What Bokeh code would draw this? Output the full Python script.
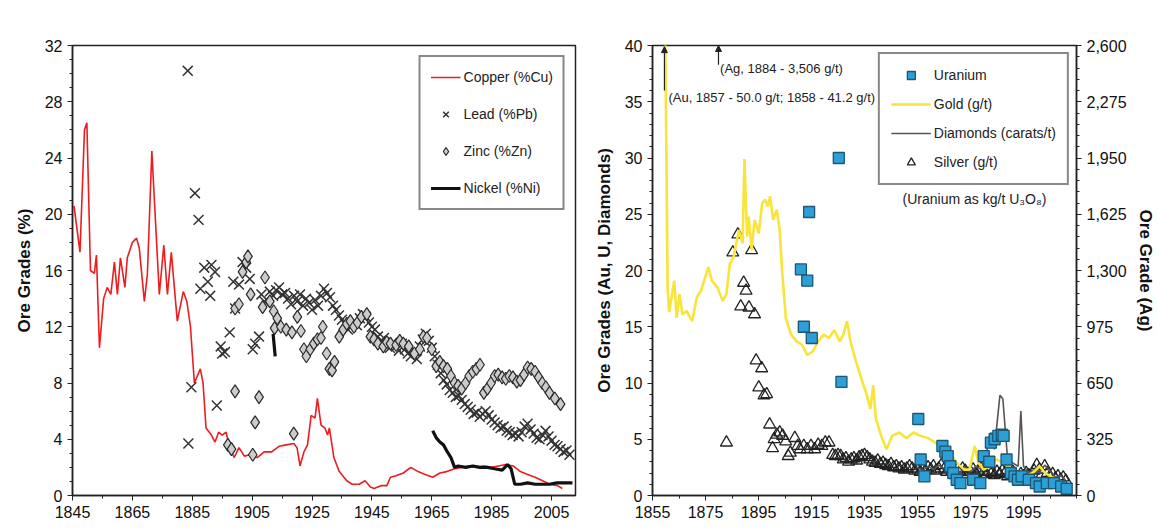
import math
from bokeh.plotting import figure
from bokeh.layouts import row
from bokeh.models import (Range1d, LinearAxis, FixedTicker, NumeralTickFormatter, Arrow,
                          NormalHead, Label, Legend, LegendItem, ColumnDataSource)
from bokeh.embed import file_html
from bokeh.resources import INLINE

nan = float("nan")
FONT = "Liberation Sans"

# ---------------- left panel data (% grades) ----------------
cu_year = [1845.5, 1847.5, 1849, 1849.8, 1851, 1852.3, 1853, 1854, 1855.4, 1856.6, 1857.8, 1859, 1860, 1861,
           1862.5, 1863.3, 1865, 1866.4, 1867.3, 1869, 1870, 1871.5, 1872.5, 1874, 1875.5, 1876.7, 1878, 1880,
           1882, 1883.2, 1884.4, 1885.7, 1887.7, 1888.6, 1889.6, 1891.4, 1892.6, 1893.8, 1895, 1896.3, 1897.5,
           1899, 1900.6, 1902.4, 1904.2, 1906.7, 1909, 1911.5, 1914, 1916.4, 1918.9, 1920, 1921, 1922.3, 1923.5,
           1924.7, 1926, 1926.8, 1928, 1929.3, 1930.2, 1930.8, 1932.3, 1934.1, 1936.6, 1938.4, 1940.8, 1942.7,
           1944.5, 1945.7, 1948, 1950, 1951.2, 1953, 1955.5, 1958, 1960.4, 1962.8, 1965.3, 1967.7, 1970, 1972.6,
           1975, 1977.5, 1980, 1982.4, 1984.9, 1987.3, 1989.7, 1992.2, 1994.6, 1997, 1999.5, 2002, 2004.4, 2007,
           2008.6]
cu_val = [20.6, 17.3, 26.0, 26.5, 16.0, 15.8, 17.1, 10.5, 14.0, 14.8, 14.3, 16.6, 14.3, 16.9,
          14.8, 16.9, 18.0, 18.3, 17.6, 13.8, 15.7, 24.5, 20.4, 14.3, 17.8, 14.3, 17.3, 12.4,
          14.5, 13.8, 12.0, 8.0, 9.0, 8.0, 4.8, 4.3, 3.8, 4.5, 4.3, 4.5, 3.4,
          2.7, 3.4, 2.8, 2.9, 2.7, 3.1, 3.1, 3.5, 3.6, 3.7, 3.4, 2.1, 3.1, 3.6,
          5.7, 5.5, 6.9, 5.0, 4.8, 4.3, 4.8, 2.7, 1.7, 1.05, 0.8, 0.8, 1.05,
          0.6, 0.5, 0.7, 0.7, 1.3, 1.4, 1.6, 2.0, 1.7, 1.5, 1.3, 1.6, 1.7, 1.9,
          2.0, 2.1, 2.0, 2.1, 2.0, 2.1, 2.2, 2.1, 1.7, 1.5, 1.3, 1.05, 0.8, 0.7,
          0.5]

pb_year = [1883.5, 1883.7, 1884.7, 1885.9, 1887.1, 1887.7, 1889, 1890.2, 1891, 1891.4, 1892.6, 1893.2, 1894.5,
           1895, 1895.9, 1897.5, 1898.7, 1899.3, 1900.6, 1901.8, 1903, 1904.2, 1905.2, 1906, 1907.3, 1908.1,
           1909.1, 1910.9, 1912, 1913, 1914, 1915, 1916, 1917, 1918, 1919, 1920, 1921, 1922, 1923, 1924, 1925,
           1926, 1927, 1928, 1929, 1930, 1931, 1932, 1933, 1934, 1935, 1936, 1937, 1938, 1939, 1940, 1941, 1942,
           1943, 1944, 1945, 1946, 1947, 1948, 1949, 1950, 1951, 1952, 1953, 1954, 1955, 1956, 1957, 1958, 1959,
           1960, 1961, 1962, 1963, 1964, 1965, 1966, 1967, 1968, 1969, 1970, 1971, 1972, 1973, 1974, 1975, 1976,
           1977, 1978, 1979, 1980, 1981, 1982, 1983, 1984, 1985, 1986, 1987, 1988, 1989, 1990, 1991, 1992, 1993,
           1994, 1995, 1996, 1997, 1998, 1999, 2000, 2001, 2002, 2003, 2004, 2005, 2006, 2007, 2008, 2009, 2010,
           2011]
pb_val = [30.2, 3.7, 7.7, 21.5, 19.6, 14.7, 16.2, 15.2, 14.2, 16.4, 15.9, 6.4, 10.6,
          10.1, 10.2, 11.6, 15.2, 13.3, 15.0, 16.6, 16.2, 15.4, 10.4, 10.8, 11.3, 14.3,
          13.8, 14.5, 14.2, 14.6, 14.8, 14.3, 14.4, 14.0, 13.6, 14.2, 13.8, 14.3, 13.5, 14.0, 13.7, 13.2,
          13.9, 13.5, 14.2, 14.7, 14.4, 14.1, 13.5, 13.2, 12.8, 12.5, 12.2, 11.8, 12.0, 12.4, 12.1, 12.6, 12.9,
          12.7, 12.3, 12.0, 11.8, 11.3, 11.0, 11.2, 10.7, 10.5, 10.9, 10.6, 10.3, 10.8, 10.4, 10.1, 9.9, 10.3,
          9.7, 10.6, 11.1, 11.5, 11.0, 10.5, 9.9, 9.3, 8.7, 8.2, 7.9, 7.5, 7.3, 7.0, 7.1, 6.8, 6.5,
          6.3, 6.1, 5.8, 5.9, 5.6, 5.8, 6.0, 5.7, 5.4, 5.2, 5.0, 4.8, 4.9, 4.6, 4.5, 4.3, 4.4,
          4.2, 4.5, 4.9, 5.1, 4.7, 4.4, 4.1, 4.0, 4.3, 4.6, 4.2, 3.9, 3.6, 3.5, 3.3, 3.1, 3.2,
          2.9, 2.8]

zn_year = [1896.9, 1898.1, 1899.3, 1899.3, 1900.6, 1901.8, 1903, 1903.6, 1904.5, 1905.2, 1906, 1907.3, 1908.5,
           1909.3, 1910.9, 1912.2, 1912.5, 1913.4, 1914.6, 1916.4, 1918.3, 1918.9, 1920.1, 1921.3, 1922.3,
           1923.1, 1924.4, 1925.6, 1926.8, 1928, 1928.6, 1929.9, 1930.8, 1931.7, 1932.5, 1934.1, 1935.4, 1936.6,
           1937.8, 1939, 1940.2, 1941.5, 1943.3, 1944.5, 1945.7, 1947, 1948.8, 1950, 1951.2, 1953.1, 1954.3,
           1955.5, 1957.3, 1959.2, 1961, 1962.2, 1963.4, 1965, 1966.5, 1967.7, 1968.9, 1970.2, 1971.4, 1972.6,
           1973.8, 1975, 1976.3, 1977.5, 1978.7, 1979.9, 1981.1, 1982.4, 1983.6, 1984.8, 1986, 1987.2, 1988.5,
           1989.7, 1990.9, 1992.1, 1993.4, 1994.6, 1995.8, 1997, 1998.2, 1999.5, 2000.7, 2001.9, 2003.1, 2004.3,
           2006.1, 2008]
zn_val = [3.6, 3.3, 7.4, 13.3, 13.6, 15.9, 16.6, 17.0, 14.3, 2.9, 5.2, 7.0, 13.4,
          15.5, 13.8, 13.1, 11.9, 12.6, 12.0, 11.8, 11.6, 4.4, 12.7, 11.7, 10.4,
          9.9, 10.4, 10.8, 11.1, 11.2, 12.0, 10.1, 9.0, 8.9, 9.5, 11.3, 11.8, 12.2,
          12.4, 12.0, 12.3, 12.7, 12.9, 11.3, 11.1, 10.8, 10.6, 10.9, 10.8, 10.7, 11.0,
          10.8, 10.6, 10.1, 10.4, 11.3, 11.2, 10.4, 9.2, 9.5, 9.2, 9.0, 8.5, 8.0,
          7.8, 7.6, 8.0, 8.5, 8.8, 9.0, 9.3, 7.3, 7.6, 8.0, 8.5, 8.6, 8.4,
          8.3, 8.5, 8.4, 8.1, 8.2, 8.6, 9.1, 9.0, 8.8, 8.4, 8.0, 7.7, 7.3,
          6.9, 6.5]

ni_year = [1912.0, 1912.7, nan, 1965.3, 1966.5, 1967.7, 1968.9, 1970.2, 1971.4, 1972.6, 1973.8, 1976.3, 1978.7,
           1981.1, 1983.6, 1986, 1988.5, 1990.3, 1991.5, 1992.7, 1994.6, 1997, 1999.5, 2001.9, 2004.3, 2006.8,
           2009.2, 2012]
ni_val = [11.5, 9.9, nan, 4.6, 4.1, 3.8, 3.6, 3.1, 2.7, 2.0, 2.1, 2.0, 2.1,
          2.0, 2.0, 1.9, 1.8, 2.2, 1.9, 0.8, 0.8, 0.9, 0.8, 0.8, 0.8, 0.9,
          0.9, 0.9]

left_xticks = [1845, 1865, 1885, 1905, 1925, 1945, 1965, 1985, 2005]
left_yticks = [0, 4, 8, 12, 16, 20, 24, 28, 32]

# ---------------- right panel data ----------------
au_year = [1859.0, 1859.8, 1860.3, 1860.7, 1861.3, 1863.2, 1864.1, 1865.2, 1866.3, 1867.9, 1870, 1871.7, 1873.3,
           1876.1, 1877.4, 1879.5, 1881.5, 1882.9, 1884.2, 1885.6, 1887.6, 1889, 1889.7, 1890.7, 1891.3, 1892.4,
           1893.5, 1895.1, 1896.4, 1897.5, 1898.5, 1899.4, 1900.5, 1901.9, 1903, 1903.9, 1905.3, 1907.3, 1909.4,
           1911.4, 1913.4, 1915.5, 1917.5, 1919.6, 1921.6, 1923.6, 1925.7, 1927, 1928.4, 1929.7, 1931.8, 1933.8,
           1935.9, 1937.2, 1938.3, 1939.3, 1941.3, 1943.3, 1945.4, 1948.1, 1950.8, 1953.5, 1956.2, 1959, 1961.7,
           1964.4, 1967.1, 1969.8, 1972.6, 1974.6, 1976.6, 1978, 1980, 1982.1, 1984.8, 1987.5, 1990.2, 1992.9,
           1995.7, 1998.4, 2001.1, 2003.1, 2005.2, 2007.9, 2010.6]
au_val = [50.0, 41.2, 29.0, 18.5, 16.3, 19.1, 15.8, 17.9, 16.1, 16.4, 15.5, 17.6, 18.2,
          20.3, 19.1, 18.5, 17.3, 17.9, 20.6, 21.2, 23.6, 22.4, 29.9, 23.0, 24.8, 21.8,
          24.5, 23.3, 26.0, 26.3, 25.7, 26.6, 24.5, 25.4, 23.6, 20.0, 15.8, 14.3, 13.7,
          13.4, 12.5, 12.8, 13.7, 14.3, 14.0, 14.7, 13.7, 14.3, 15.5, 13.7, 11.9, 10.4,
          8.9, 7.7, 9.8, 6.8, 5.3, 4.1, 5.3, 5.6, 5.1, 5.6, 5.3, 5.1, 4.7,
          4.1, 3.8, 2.9, 2.3, 2.3, 4.4, 2.9, 2.3, 2.6, 3.2, 2.9, 2.3, 2.0,
          1.7, 2.0, 2.6, 2.0, 1.7, 1.4, 1.1]

u_year = [1925.3, 1914.1, 1911, 1913.4, 1912.1, 1915.1, 1926.3, 1955.3, 1956.2, 1957.6, 1964.4, 1965.5, 1966.4,
          1967.4, 1968.5, 1969.8, 1971.2, 1976, 1978.7, 1980, 1982.1, 1982.7, 1984.1, 1985.5, 1986.8, 1987.5,
          1988.6, 1990.2, 1991.6, 1992.9, 1994.3, 1997, 1999.7, 2001.1, 2003.8, 2006.5, 2009.2, 2011.3]
u_val = [30.0, 25.2, 20.1, 19.1, 15.0, 14.0, 10.1, 6.8, 3.2, 1.7, 4.4, 3.9, 3.5,
         2.6, 2.0, 1.4, 1.1, 1.4, 1.1, 3.5, 3.0, 4.7, 5.0, 5.3, 5.4, 5.3,
         3.2, 2.0, 1.7, 1.4, 1.7, 1.4, 1.1, 0.8, 1.1, 1.1, 0.8, 0.6]

dia_year = [1955, 1957, 1959, 1961, 1963, 1965, 1967, 1969, 1971, 1973, 1975, 1977, 1979, 1980.7, 1982.7, 1984,
            1986.1, 1987.2, 1988.9, 1990.9, 1993, 1994, 1995, 1997, 1999, 2001, 2003, 2005, 2007, 2009, 2011]
dia_val = [2.5, 2.2, 2.6, 2.3, 2.7, 2.4, 2.9, 2.2, 2.0, 2.5, 2.1, 2.6, 2.3, 3.5, 5.6, 4.1,
           8.9, 8.6, 3.5, 2.9, 2.6, 7.5, 2.6, 2.0, 2.3, 2.0, 2.7, 2.2, 1.6, 1.8, 1.3]

ag_year = [1886.5, 1882.9, 1885.3, 1887.2, 1888.3, 1889.4, 1890.3, 1891.4, 1892.4, 1893.5, 1894.1, 1895.1, 1896.2,
           1897.1, 1898.1, 1899.2, 1900.3, 1900.9, 1901.9, 1903, 1904.1, 1905.3, 1906.2, 1907, 1908.7, 1909.8,
           1910.7, 1912.1, 1913.4, 1914.8, 1916.2, 1917.5, 1918.9, 1920.2, 1921.6,
           1923, 1924, 1925, 1926, 1927, 1928, 1929, 1930, 1931, 1932, 1933, 1934, 1935, 1936, 1937, 1938, 1939,
           1940, 1941, 1942, 1943, 1944, 1945, 1946, 1947, 1948, 1949, 1950, 1951, 1952, 1953, 1954, 1955, 1956,
           1957, 1958, 1959, 1960, 1961, 1962, 1963, 1964, 1965, 1966, 1967, 1968, 1969, 1970, 1971, 1972, 1973,
           1974, 1975, 1976, 1977, 1978, 1979, 1980, 1981, 1982, 1983, 1984, 1985, 1986, 1987, 1988, 1989, 1990,
           1991, 1992, 1993, 1994, 1995, 1996, 1997, 1998, 1999, 2000, 2001, 2002, 2003, 2004, 2005, 2006, 2007,
           2008, 2009, 2010, 2011]
ag_val = [3506, 306, 1404, 1508, 1092, 1229, 1183, 1086, 1417, 1047, 780, 624, 735,
          579, 585, 410, 273, 325, 351, 364, 345, 312, 228, 247, 332, 286,
          267, 286, 267, 286, 267, 293, 286, 306, 306,
          234, 228, 234, 228, 208, 215, 195, 208, 215, 202, 221, 228, 234, 221, 208, 195, 189,
          202, 182, 189, 176, 169, 182, 163, 169, 156, 163, 150, 156, 169, 156, 143, 150, 137,
          156, 143, 163, 150, 169, 143, 156, 176, 150, 137, 156, 143, 130, 150, 137, 156, 143,
          124, 137, 150, 130, 143, 156, 137, 124, 143, 130, 117, 137, 124, 143, 130, 111, 124,
          137, 117, 104, 124, 111, 130, 117, 104, 143, 176, 150, 124, 169, 130, 111, 124, 98,
          111, 91, 104, 85]

right_xticks = [1855, 1875, 1895, 1915, 1935, 1955, 1975, 1995]
right_yticks = [0, 5, 10, 15, 20, 25, 30, 35, 40]
ag_ticks = [0, 325, 650, 975, 1300, 1625, 1950, 2275, 2600]


def style_axes(p):
    for ax in p.xaxis + p.yaxis:
        ax.axis_line_color = "#222222"
        ax.axis_line_width = 1.5
        ax.major_tick_line_color = "#222222"
        ax.minor_tick_line_color = "#222222"
        ax.major_tick_in = 0
        ax.major_tick_out = 5
        ax.minor_tick_in = 0
        ax.minor_tick_out = 3
        ax.major_label_text_font = FONT
        ax.major_label_text_font_size = "16px"
        ax.major_label_text_color = "#111111"
        ax.axis_label_text_font = FONT
        ax.axis_label_text_font_size = "17px"
        ax.axis_label_text_font_style = "bold"
        ax.axis_label_text_color = "#111111"
    p.xgrid.visible = False
    p.ygrid.visible = False
    p.outline_line_color = "#222222"
    p.outline_line_width = 1.5
    p.background_fill_color = "white"
    p.border_fill_color = "white"


# ---------------- left figure ----------------
p1 = figure(width=580, height=530, x_range=Range1d(1845, 2013), y_range=Range1d(0, 32),
            output_backend="svg", toolbar_location=None,
            min_border_left=72, min_border_right=5, min_border_top=33, min_border_bottom=31)
style_axes(p1)
p1.xaxis.ticker = FixedTicker(ticks=left_xticks, minor_ticks=list(range(1845, 2015, 10)))
p1.yaxis.ticker = FixedTicker(ticks=left_yticks, minor_ticks=list(range(0, 33)))
p1.yaxis.axis_label = "Ore Grades (%)"
p1.yaxis.axis_label_standoff = 8

r_cu = p1.line(cu_year, cu_val, line_color="#ee1c1c", line_width=1.6)
r_pb = p1.scatter(pb_year, pb_val, marker="x", size=14, line_color="#333333", line_width=1.5)
r_zn = p1.scatter(zn_year, zn_val, marker="diamond", size=13, fill_color="#cccccc",
                  line_color="#2a2a2a", line_width=1.2)
r_ni = p1.line(ni_year, ni_val, line_color="#111111", line_width=3.2)

leg1 = Legend(items=[LegendItem(label="Copper (%Cu)", renderers=[r_cu]),
                     LegendItem(label="Lead (%Pb)", renderers=[r_pb]),
                     LegendItem(label="Zinc (%Zn)", renderers=[r_zn]),
                     LegendItem(label="Nickel (%Ni)", renderers=[r_ni])],
              location="top_right", margin=10, padding=10, spacing=17,
              glyph_width=30, glyph_height=20, label_height=20, label_standoff=3,
              label_text_font=FONT, label_text_font_size="14px", label_text_color="#222222",
              border_line_color="#111111", border_line_width=2, background_fill_alpha=1)
p1.add_layout(leg1)

# ---------------- right figure ----------------
p2 = figure(width=577, height=530, x_range=Range1d(1855, 2015), y_range=Range1d(0, 40),
            output_backend="svg", toolbar_location=None,
            min_border_left=72, min_border_right=77, min_border_top=45, min_border_bottom=35)
p2.extra_y_ranges = {"ag": Range1d(0, 2600)}
ag_axis = LinearAxis(y_range_name="ag", axis_label="Ore Grade (Ag)")
p2.add_layout(ag_axis, "right")
style_axes(p2)
p2.xaxis.ticker = FixedTicker(ticks=right_xticks, minor_ticks=list(range(1855, 2016, 10)))
p2.yaxis[0].ticker = FixedTicker(ticks=right_yticks, minor_ticks=list(range(0, 41)))
p2.yaxis[0].axis_label = "Ore Grades (Au, U, Diamonds)"
p2.yaxis[0].axis_label_standoff = 8
ag_axis.ticker = FixedTicker(ticks=ag_ticks, minor_ticks=list(range(0, 2601, 65)))
ag_axis.formatter = NumeralTickFormatter(format="0,0")
ag_axis.axis_label_standoff = 6

r_ag = p2.scatter(ag_year, [min(v, 2625) for v in ag_val], y_range_name="ag", marker="triangle",
                  size=12, fill_color="white", fill_alpha=0.0, line_color="#222222", line_width=1.3)
r_dia = p2.line(dia_year, dia_val, line_color="#555555", line_width=1.6)
r_au = p2.line(au_year, au_val, line_color="#f8e43a", line_width=2.6)
r_u = p2.scatter(u_year, u_val, marker="square", size=11, fill_color="#2d9fd8",
                 line_color="#1c5670", line_width=1.3)

leg2 = Legend(items=[LegendItem(label="Uranium", renderers=[r_u]),
                     LegendItem(label="Gold (g/t)", renderers=[r_au]),
                     LegendItem(label="Diamonds (carats/t)", renderers=[r_dia]),
                     LegendItem(label="Silver (g/t)", renderers=[r_ag])],
              location="top_right", margin=7, padding=11, spacing=9,
              glyph_width=40, glyph_height=20, label_height=20, label_standoff=3,
              label_text_font=FONT, label_text_font_size="14px", label_text_color="#222222",
              border_line_color="#111111", border_line_width=2, background_fill_alpha=1)
p2.add_layout(leg2)

p2.add_layout(Label(x=1976.5, y=26.4, text="(Uranium as kg/t U\u2083O\u2088)", text_align="center",
                    text_baseline="middle", text_font=FONT, text_font_size="14px", text_color="#222222"))

head = dict(size=6, fill_color="#222222", line_color="#222222")
p2.add_layout(Arrow(end=NormalHead(**head), x_start=1859.5, y_start=36.0, x_end=1859.5, y_end=39.9,
                    line_color="#222222", line_width=1.2))
p2.add_layout(Arrow(end=NormalHead(**head), x_start=1879.9, y_start=38.3, x_end=1879.9, y_end=40.0,
                    line_color="#222222", line_width=1.2))
p2.add_layout(Label(x=1861.0, y=35.4, text="(Au, 1857 - 50.0 g/t; 1858 - 41.2 g/t)", text_align="left",
                    text_baseline="middle", text_font=FONT, text_font_size="13px", text_color="#222222"))
p2.add_layout(Label(x=1880.5, y=38.0, text="(Ag, 1884 - 3,506 g/t)", text_align="left",
                    text_baseline="middle", text_font=FONT, text_font_size="13px", text_color="#222222"))

layout = row(p1, p2)
open("out.html", "w").write(file_html(layout, INLINE))
